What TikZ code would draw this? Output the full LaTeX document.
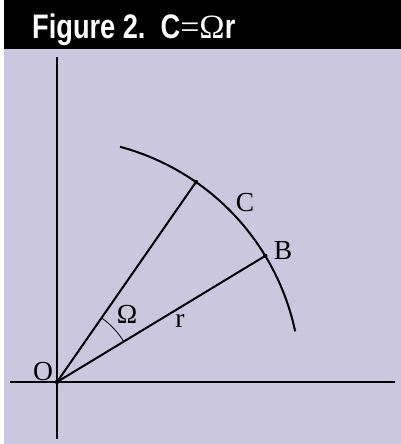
\documentclass[tikz,border=0pt]{standalone}
\usepackage{fontspec}
\setmainfont{Liberation Serif}
\newfontfamily\headfont[FakeStretch=0.8]{Liberation Sans}
\usepackage{tikz}
\usetikzlibrary{positioning}
\definecolor{cpanel}{HTML}{CBC7DF}
\definecolor{cink}{HTML}{000000}
\begin{document}
\begin{tikzpicture}[
  x=1pt, y=1pt,
  axis/.style={draw=cink, line width=2pt},
  ray/.style={draw=cink, line width=2pt},
  lbl/.style={text=cink, font=\fontsize{27.5}{29}\selectfont, inner sep=0pt},
  dot/.style={circle, fill=cink, inner sep=0pt, minimum size=4.5pt}
]
\useasboundingbox (0,0) rectangle (401,444);
\fill[cpanel] (3.5,0) rectangle (401,394.5);
\fill[black] (3.5,394.5) rectangle (401,444);
\node[anchor=base west, text=white, inner sep=0pt,
      font=\headfont\bfseries\fontsize{34}{36}\selectfont] (title) at (32,405)
  {Figure 2.\ \ C{\rmfamily\mdseries =Ω}r};

\coordinate (O) at (57,62);
\coordinate (xl) at (10,62);
\coordinate (xr) at (395,62);
\coordinate (yb) at (57,5);
\coordinate (yt) at (57,387);
\coordinate (B) at ([shift={(31.2:243.5)}]O);
\coordinate (C) at ([shift={(55.2:243.5)}]O);

\draw[axis] (xl) -- (xr);
\draw[axis] (yb) -- (yt);
\draw[ray] (O) -- (B);
\draw[ray] (O) -- (C);
\draw[ray] ([shift={(12:243.5)}]O) arc[start angle=12, end angle=75, radius=243.5];
\draw[draw=cink, line width=0.8pt] ([shift={(31.2:78)}]O) arc[start angle=31.2, end angle=55.2, radius=78];
\node[dot] at (O) {};
\node[dot] at (B) {};
\node[dot] at (C) {};

\node[lbl] (lO) at (43,72) {O};
\node[lbl] (lB) at (283,193) {B};
\node[lbl] (lC) at (245,241) {C};
\node[lbl] (lom) at (127,130) {Ω};
\node[lbl] (lr) at (180,123) {r};
\end{tikzpicture}
\end{document}
